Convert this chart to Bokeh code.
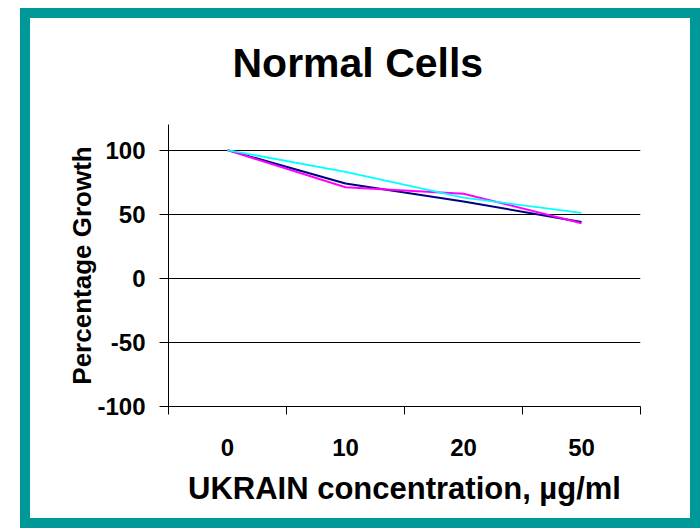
from bokeh.plotting import figure
from bokeh.models import FixedTicker, Title
from bokeh.layouts import column
from bokeh.embed import file_html
from bokeh.resources import INLINE

# ---- data ----
concentrations = ["0", "10", "20", "50"]
growth_navy = [100, 74, 60, 44]
growth_magenta = [100, 71, 66, 43]
growth_cyan = [100, 83, 63, 51]
y_ticks = [-100, -50, 0, 50, 100]

FONT = "Liberation Sans"
x_pos = [i + 0.5 for i in range(len(concentrations))]

p = figure(width=660, height=500, x_range=(0, len(concentrations)), y_range=(-100, 120),
           output_backend="svg", toolbar_location=None,
           min_border_left=138, min_border_right=50, min_border_top=106, min_border_bottom=112)
p.outline_line_color = None
p.background_fill_color = "white"
p.border_fill_color = "white"

# spacer between frame and title (closest to the frame), then the real title
spacer = Title(text=" ", text_font_size="1px", standoff=34)
p.add_layout(spacer, "above")
title = Title(text="Normal Cells", align="left", offset=64, standoff=4,
              text_font=FONT, text_font_size="41px", text_font_style="bold", text_color="black")
p.add_layout(title, "above")

p.line(x_pos, growth_navy, line_color="#000080", line_width=2)
p.line(x_pos, growth_magenta, line_color="#FF00FF", line_width=2)
p.line(x_pos, growth_cyan, line_color="#00FFFF", line_width=1.8)

# x axis: labels at category centres, ticks at boundaries
xa = p.xaxis[0]
xa.ticker = FixedTicker(ticks=x_pos, minor_ticks=list(range(len(concentrations) + 1)))
xa.major_label_overrides = {x: lab for x, lab in zip(x_pos, concentrations)}
xa.major_tick_line_color = None
xa.minor_tick_line_color = "black"
xa.minor_tick_out = 8
xa.minor_tick_in = 0
xa.axis_line_color = "black"
xa.major_label_text_font = FONT
xa.major_label_text_font_size = "24px"
xa.major_label_text_font_style = "bold"
xa.major_label_text_color = "black"
xa.major_label_standoff = 24
xa.axis_label = "UKRAIN concentration, µg/ml"
xa.axis_label_text_font = FONT
xa.axis_label_text_font_size = "31px"
xa.axis_label_text_font_style = "bold"
xa.axis_label_text_color = "black"
xa.axis_label_standoff = 12

ya = p.yaxis[0]
ya.ticker = FixedTicker(ticks=y_ticks, minor_ticks=[])
ya.major_label_overrides = {t: str(t) for t in y_ticks}
ya.major_tick_line_color = "black"
ya.major_tick_out = 9
ya.major_tick_in = 0
ya.axis_line_color = "black"
ya.major_label_text_font = FONT
ya.major_label_text_font_size = "24px"
ya.major_label_text_font_style = "bold"
ya.major_label_text_color = "black"
ya.major_label_standoff = 14
ya.axis_label = "Percentage Growth"
ya.axis_label_text_font = FONT
ya.axis_label_text_font_size = "26px"
ya.axis_label_text_font_style = "bold"
ya.axis_label_text_color = "black"
ya.axis_label_standoff = -3

p.xgrid.visible = False
p.ygrid.ticker = FixedTicker(ticks=y_ticks)
p.ygrid.grid_line_color = "black"
p.ygrid.grid_line_width = 1

layout = column(p, margin=(8, 0, 0, 20),
                styles={"border": "10px solid #009999", "background-color": "white"})

open("out.html", "w").write(file_html(layout, INLINE))
